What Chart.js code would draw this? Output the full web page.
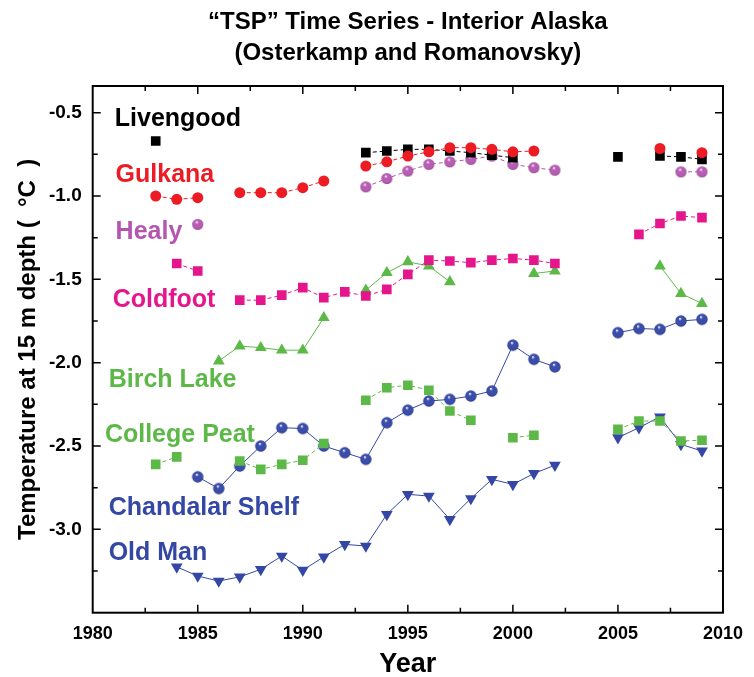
<!DOCTYPE html>
<html>
<head>
<meta charset="utf-8">
<script src="https://cdn.jsdelivr.net/npm/chart.js@4.4.1/dist/chart.umd.min.js"></script>
<style>
  html, body { margin: 0; padding: 0; background: #fff; }
</style>
</head>
<body>
<canvas id="tspChart" width="754" height="677"></canvas>
<script>
// Years shared by every station (null = no measurement that year)
const years = [1983, 1984, 1985, 1986, 1987, 1988, 1989, 1990, 1991, 1992, 1993, 1994, 1995,
  1996, 1997, 1998, 1999, 2000, 2001, 2002, 2003, 2004, 2005, 2006, 2007, 2008, 2009];

const livengood = [-0.67, null, null, null, null, null, null, null, null, null, -0.74, -0.73, -0.72,
  -0.72, -0.73, -0.74, -0.755, -0.77, null, null, null, null, -0.765, null, -0.76, -0.765, -0.78];
const gulkana = [-1.0, -1.02, -1.01, null, -0.98, -0.98, -0.98, -0.95, -0.91, null, -0.82, -0.795, -0.76,
  -0.735, -0.71, -0.71, -0.72, -0.735, -0.73, null, null, null, null, null, -0.715, null, -0.74];
const healy = [null, null, -1.17, null, null, null, null, null, null, null, -0.945, -0.895, -0.85,
  -0.81, -0.795, -0.78, -0.76, -0.81, -0.83, -0.845, null, null, null, null, null, -0.855, -0.855];
const coldfoot = [null, -1.405, -1.45, null, -1.625, -1.625, -1.595, -1.55, -1.61, -1.575, -1.6, -1.56, -1.47,
  -1.385, -1.39, -1.4, -1.385, -1.375, -1.385, -1.405, null, null, null, -1.23, -1.165, -1.12, -1.13];
const birchLake = [null, null, null, -1.99, -1.9, -1.91, -1.925, -1.925, -1.73, null, -1.565, -1.46, -1.395,
  -1.42, -1.515, null, null, null, -1.465, -1.45, null, null, null, null, -1.42, -1.585, -1.645];
const collegePeat = [-2.61, -2.565, null, null, -2.59, -2.64, -2.61, -2.585, -2.485, null, -2.225, -2.15, -2.135,
  -2.165, -2.29, -2.345, null, -2.45, -2.435, null, null, null, -2.4, -2.35, -2.35, -2.47, -2.465];
const chandalar = [null, null, -2.685, -2.755, -2.62, -2.5, -2.39, -2.395, -2.5, -2.54, -2.58, -2.36, -2.285,
  -2.23, -2.22, -2.2, -2.17, -1.895, -1.98, -2.025, null, null, -1.82, -1.795, -1.8, -1.75, -1.74];
const oldMan = [null, -3.225, -3.28, -3.31, -3.285, -3.24, -3.16, -3.245, -3.165, -3.09, -3.1, -2.91, -2.79,
  -2.8, -2.94, -2.815, -2.7, -2.73, -2.665, -2.615, null, null, -2.45, -2.39, -2.325, -2.49, -2.53];

const xTickValues = [1980, 1985, 1990, 1995, 2000, 2005, 2010];
const yTickValues = [-3.0, -2.5, -2.0, -1.5, -1.0, -0.5];

const FONT = '"Liberation Sans", Arial, Helvetica, sans-serif';
const BLACK = '#000000';
const RED = '#ED1C24';
const PURPLE = '#B455B0';
const PINK = '#E5168C';
const GREEN = '#5CB947';
const BLUE = '#3447A5';

// shaded ball used as point style for Healy and Chandalar Shelf
function sphere(color, dark, r) {
  const c = document.createElement('canvas');
  const s = Math.ceil(r * 2) + 2;
  c.width = c.height = s;
  const g = c.getContext('2d');
  const cx = s / 2, cy = s / 2;
  const grad = g.createRadialGradient(cx - r * 0.2, cy - r * 0.45, r * 0.05, cx, cy, r);
  grad.addColorStop(0, '#ffffff');
  grad.addColorStop(0.28, color);
  grad.addColorStop(0.8, color);
  grad.addColorStop(1, dark);
  g.fillStyle = grad;
  g.beginPath();
  g.arc(cx, cy, r, 0, Math.PI * 2);
  g.fill();
  return c;
}

function toPoints(values) {
  return years.map((yr, i) => ({ x: yr, y: values[i] }));
}

function series(label, values, color, style, radius, dashed, extra) {
  return Object.assign({
    label: label,
    data: toPoints(values),
    borderColor: color,
    backgroundColor: color,
    pointBackgroundColor: color,
    pointBorderColor: color,
    pointBorderWidth: 0,
    borderWidth: 1,
    borderDash: dashed ? [4, 3] : [],
    pointStyle: style,
    pointRadius: radius,
    spanGaps: false,
    tension: 0,
  }, extra || {});
}

// station names written beside the curves (year / value anchor of text's left baseline)
const stationLabels = [
  { text: 'Livengood', color: BLACK, x: 1981.05, y: -0.58 },
  { text: 'Gulkana', color: RED, x: 1981.09, y: -0.914 },
  { text: 'Healy', color: PURPLE, x: 1981.09, y: -1.26 },
  { text: 'Coldfoot', color: PINK, x: 1980.95, y: -1.664 },
  { text: 'Birch Lake', color: GREEN, x: 1980.76, y: -2.145 },
  { text: 'College Peat', color: GREEN, x: 1980.58, y: -2.475 },
  { text: 'Chandalar Shelf', color: BLUE, x: 1980.76, y: -2.915 },
  { text: 'Old Man', color: BLUE, x: 1980.76, y: -3.185 },
];

// frame with inward ticks, title lines and station names
const decorPlugin = {
  id: 'decor',
  beforeDatasetsDraw(chart) {
    const { ctx, chartArea: a, scales: { x, y } } = chart;
    ctx.save();
    ctx.strokeStyle = '#000';
    ctx.lineWidth = 2;
    ctx.strokeRect(a.left, a.top, a.right - a.left, a.bottom - a.top);
    ctx.lineWidth = 1.5;
    ctx.beginPath();
    for (let v = 1982.5; v < 2010; v += 2.5) {
      const px = x.getPixelForValue(v);
      const len = (v % 5 === 0) ? 8 : 5;
      ctx.moveTo(px, a.bottom); ctx.lineTo(px, a.bottom - len);
      ctx.moveTo(px, a.top); ctx.lineTo(px, a.top + len);
    }
    for (let v = -3.25; v < -0.3; v += 0.25) {
      const py = y.getPixelForValue(v);
      const major = Math.abs(v * 2 - Math.round(v * 2)) < 1e-6;
      const len = major ? 8 : 5;
      ctx.moveTo(a.left, py); ctx.lineTo(a.left + len, py);
      ctx.moveTo(a.right, py); ctx.lineTo(a.right - len, py);
    }
    ctx.stroke();
    ctx.restore();
  },
  afterDraw(chart) {
    const { ctx, chartArea: a, scales: { x, y } } = chart;
    ctx.save();
    ctx.fillStyle = '#000';
    ctx.textAlign = 'center';
    ctx.textBaseline = 'middle';
    ctx.font = 'bold 24px ' + FONT;
    const cx = (a.left + a.right) / 2;
    ctx.fillText('\u201CTSP\u201D Time Series - Interior Alaska', cx, 22);
    ctx.fillText('(Osterkamp and Romanovsky)', cx, 53);

    ctx.textAlign = 'left';
    ctx.textBaseline = 'alphabetic';
    ctx.font = 'bold 25px ' + FONT;
    stationLabels.forEach((l) => {
      ctx.fillStyle = l.color;
      ctx.fillText(l.text, x.getPixelForValue(l.x), y.getPixelForValue(l.y));
    });
    ctx.restore();
  },
};

const ctx = document.getElementById('tspChart');

new Chart(ctx, {
  type: 'line',
  data: {
    datasets: [
      series('Gulkana', gulkana, RED, 'circle', 5.5, true),
      series('Livengood', livengood, BLACK, 'rect', 6.8, true),
      series('Healy', healy, PURPLE, sphere('#B85CB4', '#8a3f86', 5.5), 5.5, true),
      series('Coldfoot', coldfoot, PINK, 'rect', 6.8, true),
      series('Birch Lake', birchLake, GREEN, 'triangle', 6.8, false),
      series('College Peat', collegePeat, GREEN, 'rect', 6.8, true),
      series('Chandalar Shelf', chandalar, BLUE, sphere('#3A4DAA', '#26347e', 5.7), 5.7, false),
      series('Old Man', oldMan, BLUE, 'triangle', 6.8, false, { pointRotation: 180 }),
    ],
  },
  options: {
    responsive: false,
    animation: false,
    devicePixelRatio: 1,
    layout: { padding: { left: 0, top: 86, right: 21.3, bottom: 0 } },
    plugins: {
      legend: { display: false },
      tooltip: { enabled: false },
      title: { display: false },
    },
    scales: {
      x: {
        type: 'linear',
        min: 1980,
        max: 2010,
        afterBuildTicks: (s) => { s.ticks = xTickValues.map((v) => ({ value: v })); },
        afterFit: (s) => { s.height = 64.3; },
        grid: { display: false, drawTicks: false },
        border: { display: false },
        ticks: {
          color: '#000',
          padding: 11,
          maxRotation: 0,
          autoSkip: false,
          font: { family: FONT, size: 18, weight: 'bold' },
          callback: (v) => String(v),
        },
        title: {
          display: true,
          text: 'Year',
          color: '#000',
          padding: { top: 0, bottom: -1 },
          font: { family: FONT, size: 27, weight: 'bold', lineHeight: 1 },
        },
      },
      y: {
        type: 'linear',
        min: -3.5,
        max: -0.34,
        afterBuildTicks: (s) => { s.ticks = yTickValues.map((v) => ({ value: v })); },
        afterFit: (s) => { s.width = 92.7; },
        grid: { display: false, drawTicks: false },
        border: { display: false },
        ticks: {
          color: '#000',
          padding: 11,
          autoSkip: false,
          font: { family: FONT, size: 19, weight: 'bold' },
          callback: (v) => v.toFixed(1),
        },
        title: {
          display: true,
          text: 'Temperature at 15 m depth (  \u00B0C  )',
          color: '#000',
          padding: { top: 14, bottom: 0 },
          font: { family: FONT, size: 24, weight: 'bold', lineHeight: 1.2 },
        },
      },
    },
  },
  plugins: [decorPlugin],
});
</script>
</body>
</html>
